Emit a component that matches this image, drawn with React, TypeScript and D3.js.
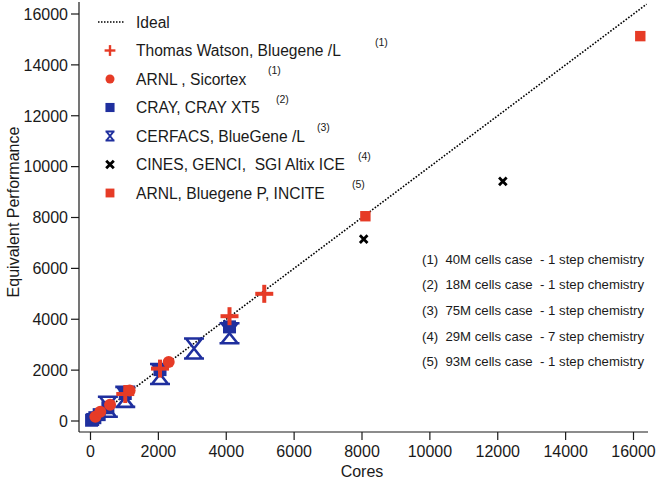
import * as d3 from "d3";

// [cores, equivalent performance]
const ideal: [number, number][] = [
  [0, 0],
  [16384, 16384],
];
const watson: [number, number][] = [
  [1024, 1060],
  [2048, 2060],
  [4096, 4120],
  [5120, 5000],
];
const sicortex: [number, number][] = [
  [144, 170],
  [288, 360],
  [576, 640],
  [1152, 1200],
  [2304, 2320],
];
const crayXT5: [number, number][] = [
  [32, 30],
  [64, 60],
  [128, 130],
  [256, 250],
  [512, 520],
  [1024, 1080],
  [2048, 2020],
  [4096, 3700],
];
const cerfacs: [number, number][] = [
  [512, 560],
  [1024, 950],
  [2048, 1850],
  [3050, 2850],
  [4096, 3450],
];
const cines: [number, number][] = [
  [8050, 7150],
  [12150, 9420],
];
const incite: [number, number][] = [
  [8100, 8050],
  [16200, 15130],
];

const xTicks = [0, 2000, 4000, 6000, 8000, 10000, 12000, 14000, 16000];
const yTicks = [0, 2000, 4000, 6000, 8000, 10000, 12000, 14000, 16000];

const legendLabels = [
  "Ideal",
  "Thomas Watson, Bluegene /L",
  "ARNL , Sicortex",
  "CRAY, CRAY XT5",
  "CERFACS, BlueGene /L",
  "CINES, GENCI,  SGI Altix ICE",
  "ARNL, Bluegene P, INCITE",
];
const legendRefs = ["", "(1)", "(1)", "(2)", "(3)", "(4)", "(5)"];
const refOffsets = [0, 239, 132, 140, 181, 222, 216];

const notes = [
  "(1)  40M cells case  - 1 step chemistry",
  "(2)  18M cells case  - 1 step chemistry",
  "(3)  75M cells case  - 1 step chemistry",
  "(4)  29M cells case  - 7 step chemistry",
  "(5)  93M cells case  - 1 step chemistry",
];

const RED = "#e63b26";
const BLUE = "#1f2f9e";
const INK = "#1a1a1a";
const FONT = "'Liberation Sans', Arial, Helvetica, sans-serif";

const W = 662;
const H = 487;

const x = d3.scaleLinear().domain([0, 16000]).range([90.5, 633.5]);
const y = d3.scaleLinear().domain([0, 16000]).range([421, 14]);

const axisLeft = 79;
const axisBottom = 432;

type Kind = "plus" | "circle" | "square" | "hourglass" | "cross" | "redsquare";

function Marker({ kind, cx, cy, s }: { kind: Kind; cx: number; cy: number; s: number }) {
  const t = `translate(${cx},${cy})`;
  if (kind === "plus") {
    const a = 9 * s;
    const w = 4 * s;
    return (
      <g transform={t} fill={RED}>
        <rect x={-a} y={-w / 2} width={2 * a} height={w} />
        <rect x={-w / 2} y={-a} width={w} height={2 * a} />
      </g>
    );
  }
  if (kind === "circle") {
    return <circle transform={t} r={6 * s} fill={RED} />;
  }
  if (kind === "square") {
    const a = 6.5 * s;
    return <rect transform={t} x={-a} y={-a} width={2 * a} height={2 * a} fill={BLUE} />;
  }
  if (kind === "redsquare") {
    const a = 5.2 * s;
    return <rect transform={t} x={-a} y={-a} width={2 * a} height={2 * a} fill={RED} />;
  }
  if (kind === "hourglass") {
    const a = 10 * s;
    const b = 8 * s;
    return (
      <path
        transform={t}
        d={`M${-a},${-a}H${a}M${-a},${a}H${a}M${-b},${-a}L0,0L${b},${-a}M${-b},${a}L0,0L${b},${a}`}
        fill="none"
        stroke={BLUE}
        strokeWidth={s < 1 ? 2 : 2.6}
      />
    );
  }
  const a = 3.8 * s;
  return (
    <path
      transform={t}
      d={`M${-a},${-a}L${a},${a}M${-a},${a}L${a},${-a}`}
      stroke="#000"
      strokeWidth={2.8}
      fill="none"
    />
  );
}

const series: { kind: Kind; data: [number, number][] }[] = [
  { kind: "hourglass", data: cerfacs },
  { kind: "square", data: crayXT5 },
  { kind: "circle", data: sicortex },
  { kind: "plus", data: watson },
  { kind: "cross", data: cines },
  { kind: "redsquare", data: incite },
];

const legendKinds: Kind[] = ["plus", "circle", "square", "hourglass", "cross", "redsquare"];
const legendScale = [0.6, 0.75, 0.7, 0.45, 1, 0.85];

export default function App() {
  const line = d3
    .line<[number, number]>()
    .x((d) => x(d[0]))
    .y((d) => y(d[1]));

  return (
    <div style={{ position: "absolute", left: 0, top: 0, background: "#fff" }}>
      <svg width={W} height={H} style={{ display: "block", fontFamily: FONT }}>
        <rect width={W} height={H} fill="#fff" />

        {/* axes */}
        <line x1={axisLeft} x2={axisLeft} y1={2} y2={axisBottom} stroke={INK} strokeWidth={1.2} />
        <line x1={axisLeft} x2={648} y1={axisBottom} y2={axisBottom} stroke={INK} strokeWidth={1.2} />

        {yTicks.map((v) => (
          <g key={`y${v}`}>
            <line x1={axisLeft - 8} x2={axisLeft} y1={y(v)} y2={y(v)} stroke={INK} strokeWidth={1.2} />
            <text x={axisLeft - 11} y={y(v)} dy="0.36em" textAnchor="end" fontSize={16} fill={INK}>
              {v}
            </text>
          </g>
        ))}
        {xTicks.map((v) => (
          <g key={`x${v}`}>
            <line x1={x(v)} x2={x(v)} y1={axisBottom} y2={axisBottom + 8} stroke={INK} strokeWidth={1.2} />
            <text x={x(v)} y={axisBottom + 25} textAnchor="middle" fontSize={16} fill={INK}>
              {v}
            </text>
          </g>
        ))}

        <text x={362} y={477} textAnchor="middle" fontSize={16} fill={INK}>
          Cores
        </text>
        <text
          transform="translate(19,212) rotate(-90)"
          textAnchor="middle"
          fontSize={16}
          fill={INK}
        >
          Equivalent Performance
        </text>

        {/* ideal scaling */}
        <path d={line(ideal) ?? ""} fill="none" stroke="#000" strokeWidth={1.6} strokeDasharray="1.6,1.6" />

        {series.map((s) =>
          s.data.map((d, i) => (
            <Marker key={`${s.kind}${i}`} kind={s.kind} cx={x(d[0])} cy={y(d[1])} s={1} />
          ))
        )}

        {/* legend */}
        {legendLabels.map((label, i) => {
          const ly = 22 + i * 28.5;
          return (
            <g key={label}>
              {i === 0 ? (
                <line x1={98} x2={124} y1={ly} y2={ly} stroke="#000" strokeWidth={1.5} strokeDasharray="1.5,1.5" />
              ) : (
                <Marker kind={legendKinds[i - 1]} cx={110} cy={ly} s={legendScale[i - 1]} />
              )}
              <text x={136} y={ly} dy="0.36em" fontSize={15.6} fill={INK} style={{ whiteSpace: "pre" }}>
                {label}
              </text>
              {legendRefs[i] && (
                <text x={136 + refOffsets[i]} y={ly - 5} fontSize={10.5} fill={INK}>
                  {legendRefs[i]}
                </text>
              )}
            </g>
          );
        })}

        {/* case notes */}
        {notes.map((n, i) => (
          <text
            key={n}
            x={422}
            y={259 + i * 25.6}
            dy="0.36em"
            fontSize={13.2}
            fill={INK}
            style={{ whiteSpace: "pre" }}
          >
            {n}
          </text>
        ))}
      </svg>
    </div>
  );
}
